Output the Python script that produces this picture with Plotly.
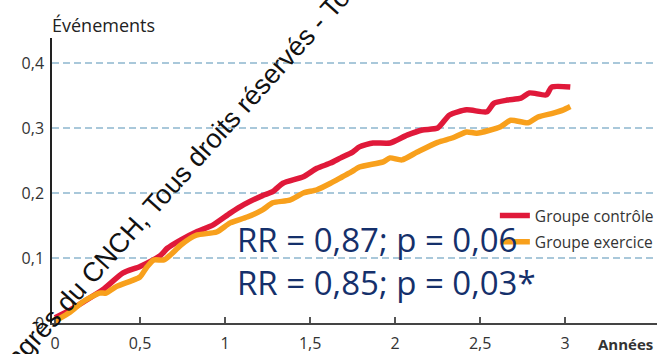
import plotly.graph_objects as go

# Years of follow-up and cumulative event rates
ctrl_t = [0, 0.09, 0.165, 0.28, 0.4, 0.5, 0.62, 0.66, 0.74, 0.83, 0.93, 1.03, 1.11, 1.22, 1.28,
          1.34, 1.46, 1.54, 1.62, 1.68, 1.75, 1.79, 1.87, 1.97, 2.07, 2.16, 2.25, 2.32, 2.42,
          2.54, 2.58, 2.66, 2.74, 2.79, 2.89, 2.92, 3.03]
ctrl_v = [0.008, 0.02, 0.032, 0.051, 0.077, 0.087, 0.104, 0.115, 0.128, 0.14, 0.151, 0.169, 0.182,
          0.196, 0.202, 0.215, 0.225, 0.238, 0.246, 0.254, 0.263, 0.271, 0.277, 0.277, 0.289,
          0.297, 0.300, 0.320, 0.328, 0.325, 0.338, 0.343, 0.346, 0.354, 0.351, 0.363, 0.363]

exer_t = [0, 0.09, 0.16, 0.26, 0.3, 0.36, 0.46, 0.5, 0.54, 0.58, 0.64, 0.68, 0.74, 0.83, 0.95,
          1.03, 1.13, 1.22, 1.28, 1.38, 1.46, 1.54, 1.62, 1.69, 1.74, 1.79, 1.93, 1.97, 2.04,
          2.13, 2.25, 2.34, 2.42, 2.48, 2.62, 2.68, 2.78, 2.84, 2.93, 2.99, 3.03]
exer_v = [0.003, 0.017, 0.032, 0.046, 0.046, 0.056, 0.066, 0.071, 0.086, 0.097, 0.097, 0.105,
          0.12, 0.135, 0.14, 0.154, 0.163, 0.174, 0.185, 0.189, 0.2, 0.205, 0.215, 0.225, 0.232,
          0.24, 0.248, 0.254, 0.251, 0.263, 0.278, 0.285, 0.294, 0.292, 0.302, 0.312, 0.308,
          0.317, 0.323, 0.328, 0.333]

series_names = ["Groupe contrôle", "Groupe exercice"]
series_colors = ["#e0193a", "#f8a01c"]
x_ticks = [0, 0.5, 1, 1.5, 2, 2.5, 3]
y_ticks = [0, 0.1, 0.2, 0.3, 0.4]
stats_text = ["RR = 0,87; p = 0,06", "RR = 0,85; p = 0,03*"]
watermark = "Congrès du CNCH, Tous droits réservés - Tous"

fig = go.Figure()
for i, (t, v) in enumerate([(ctrl_t, ctrl_v), (exer_t, exer_v)]):
    fig.add_trace(go.Scatter(x=t, y=v, mode="lines", name=series_names[i],
                             legendgroup=str(i),
                             line=dict(color=series_colors[i], width=5.5,
                                       shape="spline", smoothing=0.6)))

tick_font = dict(family="Open Sans", size=16, color="#333")
fig.update_layout(
    width=664, height=354,
    margin=dict(l=52, r=7, t=38, b=31, autoexpand=False),
    paper_bgcolor="white", plot_bgcolor="white",
    separators=", ",
    showlegend=True,
    legend=dict(x=0.732, y=0.435, xanchor="left", yanchor="top",
                font=dict(family="Open Sans", size=15.5, color="#333"),
                bgcolor="rgba(0,0,0,0)", tracegroupgap=3, itemwidth=30),
    xaxis=dict(range=[-0.018, 3.54], tickvals=x_ticks,
               ticktext=[("%g" % x).replace(".", ",") for x in x_ticks],
               showgrid=False, zeroline=False, showline=True, linecolor="#444", linewidth=1.5,
               ticks="inside", ticklen=6, tickcolor="#555", tickwidth=1.5, automargin=False,
               tickfont=tick_font, ticklabelstandoff=5),
    yaxis=dict(range=[0, 0.4385], tickvals=y_ticks,
               ticktext=[("%g" % y).replace(".", ",") for y in y_ticks],
               showgrid=True, gridcolor="#a9c8da", gridwidth=1.5, griddash="7px,4px",
               zeroline=False, showline=True, linecolor="#222", linewidth=1.5, automargin=False,
               ticks="", tickfont=tick_font, ticklabelstandoff=3),
)

fig.add_annotation(xref="paper", yref="paper", x=-0.003, y=1.046, xanchor="left", yanchor="middle",
                   text="Événements", showarrow=False,
                   font=dict(family="Open Sans", size=18, color="#222"))
fig.add_annotation(xref="paper", yref="paper", x=0.997, y=-0.072, xanchor="right", yanchor="middle",
                   text="<b>Années</b>", showarrow=False,
                   font=dict(family="Open Sans", size=15, color="#333"))
fig.add_annotation(xref="paper", yref="paper", x=0.303, y=0.2175, xanchor="left", yanchor="middle",
                   text="<br>".join(stats_text), showarrow=False, align="left",
                   font=dict(family="Open Sans", size=33, color="#15306b"))
fig.add_annotation(xref="paper", yref="paper", x=0.205, y=0.502, xanchor="center", yanchor="middle",
                   text=watermark, showarrow=False, textangle=-48,
                   font=dict(family="Liberation Sans", size=27, color="#111"))

fig.write_html("out.html")
